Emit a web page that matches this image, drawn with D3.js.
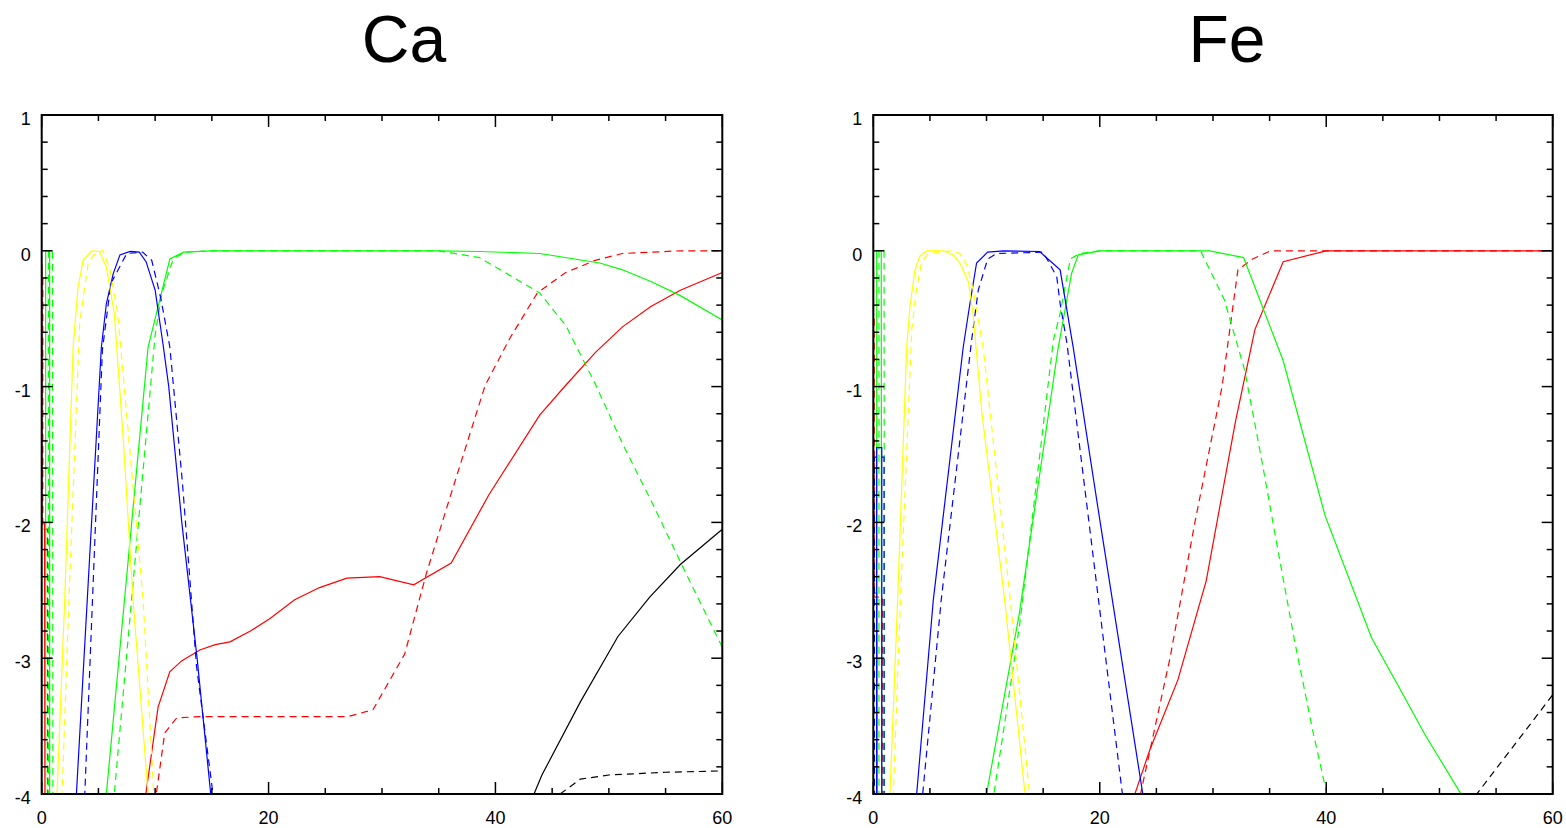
<!DOCTYPE html>
<html>
<head>
<meta charset="utf-8">
<script src="https://cdn.jsdelivr.net/npm/d3@7"></script>
<style>
  body { margin: 0; background: #fff; }
  svg text { font-family: 'Liberation Sans', Arial, Helvetica, sans-serif; }
</style>
</head>
<body>
<div id="chart"></div>
<script>

// panel titles and axis ticks
var titles = ['Ca', 'Fe'];
var xTicks = [0, 20, 40, 60];
var yTicks = [1, 0, -1, -2, -3, -4];

// Ca series: [x, log fraction]; values below -4 are off the plot
var caBlackSolid = [[43.4,-4],[44.1,-3.86],[47.5,-3.32],[50.8,-2.84],[53.6,-2.55],[56.3,-2.31],[60,-2.05]];
var caBlackDash = [[45.7,-4],[47.5,-3.89],[50,-3.86],[55,-3.84],[60,-3.83]];
var caRedSolid = [[0.02,-0.1],[0.02,-2.0],[0.25,-2.0],[0.3,-5],[9,-5],[9.18,-4],[10.26,-3.36],[11.29,-3.10],[12.33,-3.02],[13.94,-2.94],[15.3,-2.9],[16.6,-2.88],[18.4,-2.8],[20.1,-2.71],[22.3,-2.57],[24.5,-2.48],[26.9,-2.41],[29.8,-2.40],[32.8,-2.46],[36.1,-2.30],[39.4,-1.80],[43.9,-1.21],[46.2,-0.99],[48.8,-0.75],[51.2,-0.56],[53.7,-0.41],[56.3,-0.29],[60,-0.16]];
var caRedDash = [[0.1,-0.2],[0.1,-2.05],[0.5,-2.05],[0.55,-5],[9.9,-5],[10.1,-4],[10.85,-3.55],[11.9,-3.44],[13.9,-3.43],[20,-3.43],[27,-3.43],[29.2,-3.38],[32,-2.97],[33.9,-2.38],[35.9,-1.84],[39.1,-0.99],[41.3,-0.64],[43.7,-0.31],[46.2,-0.16],[48.8,-0.07],[51.2,-0.02],[56.3,0],[60,0]];
var caGreenSolid = [[0.35,-5],[0.35,0],[0.7,0],[0.7,-5],[5.6,-5],[5.7,-4],[9.38,-0.71],[9.97,-0.51],[11.3,-0.06],[12.5,-0.01],[15,0],[35,0],[38.6,-0.005],[43.9,-0.02],[49.2,-0.09],[51.2,-0.14],[53.8,-0.23],[56.3,-0.33],[60,-0.51]];
var caGreenDash = [[0.6,-5],[0.6,0],[0.95,0],[1.0,-5],[6.3,-5],[6.4,-4],[10.0,-0.62],[10.6,-0.31],[11.6,-0.06],[12.6,-0.01],[15,0],[35,0],[38.6,-0.05],[43.9,-0.31],[46.2,-0.55],[48.8,-0.98],[51.2,-1.42],[53.9,-1.87],[56.3,-2.29],[60,-2.92]];
var caBlueSolid = [[3.0,-5],[3.06,-4],[5.26,-0.71],[5.7,-0.39],[6.3,-0.17],[6.9,-0.03],[7.8,-0.005],[8.6,-0.01],[9.2,-0.08],[10.0,-0.29],[10.7,-0.69],[11.2,-1.0],[12.35,-2.0],[13.7,-3.0],[14.9,-4],[15,-5]];
var caBlueDash = [[3.7,-5],[3.8,-4],[5.35,-0.73],[6.1,-0.24],[7.5,-0.02],[8.9,-0.01],[9.7,-0.07],[10.5,-0.35],[11.3,-0.71],[12.4,-1.7],[13.65,-3.06],[15.1,-4],[15.2,-5]];
var caYellowSolid = [[1.3,-5],[1.35,-4],[2.03,-2.57],[2.77,-0.71],[3.2,-0.27],[3.65,-0.07],[4.4,0],[5.1,-0.005],[5.7,-0.12],[6.4,-0.46],[7.2,-1.4],[8.05,-2.57],[9.38,-4],[9.5,-5]];
var caYellowDash = [[1.75,-5],[1.8,-4],[2.4,-2.57],[3.35,-0.53],[4.1,-0.09],[4.8,-0.01],[5.4,0],[6.0,-0.13],[6.7,-0.46],[8.94,-2.57],[9.88,-4],[10,-5]];

// Fe series
var feBlackDash = [[52.5,-4.9],[53.3,-4],[60,-3.27]];
var feRedSolid = [[0.02,-0.15],[0.02,-2.52],[0.3,-2.52],[0.35,-5],[22.8,-5],[23.1,-4],[24.4,-3.68],[26.9,-3.16],[29.4,-2.43],[32,-1.25],[33.7,-0.58],[36.2,-0.08],[40,0],[60,0]];
var feRedDash = [[0.08,-0.5],[0.08,-2.55],[0.8,-2.55],[0.85,-5],[23.3,-5],[23.6,-4],[26.2,-3.0],[28.4,-2.0],[30.8,-1.0],[32.2,-0.14],[33.5,-0.06],[35.1,0],[60,0]];
var feGreenSolid = [[0.3,-5],[0.3,0],[0.7,0],[0.75,-5],[9.9,-5],[10,-4],[12.9,-2.67],[16.3,-0.73],[17.5,-0.17],[18.1,-0.03],[20,0],[29.7,0],[32.7,-0.05],[36.2,-0.81],[39.9,-1.95],[44,-2.85],[46.6,-3.24],[48.7,-3.56],[51.9,-4],[52,-5]];
var feGreenDash = [[0.5,-5],[0.5,0],[0.95,0],[1.0,-5],[10.5,-5],[10.65,-4],[12.9,-2.77],[15.9,-0.66],[16.5,-0.46],[17.4,-0.06],[18.25,-0.02],[20,0],[28.9,0],[31,-0.36],[32.8,-0.88],[34.3,-1.54],[35.9,-2.28],[37.2,-2.87],[38.8,-3.53],[40,-3.98],[40.1,-5]];
var feBlueSolid = [[0.3,-5],[0.3,-1.45],[0.75,-1.45],[0.75,-5],[3.7,-5],[3.83,-4],[5.3,-2.57],[7.94,-0.71],[8.53,-0.39],[9.12,-0.09],[10.1,-0.01],[11.5,0],[14.7,-0.005],[15.15,-0.04],[16.5,-0.14],[17.65,-0.71],[20,-1.98],[23.8,-4],[24,-5]];
var feBlueDash = [[0.1,-5],[0.1,-1.52],[0.95,-1.52],[0.95,-5],[4.2,-5],[4.36,-4],[6.0,-2.57],[8.68,-0.66],[9.27,-0.29],[10.1,-0.06],[10.9,-0.02],[15,-0.01],[15.4,-0.07],[16.2,-0.19],[16.5,-0.39],[17.1,-0.68],[22.0,-4],[22.2,-5]];
var feYellowSolid = [[1.4,-5],[1.47,-4],[2.15,-2.57],[2.95,-0.71],[3.24,-0.41],[3.68,-0.14],[4.1,-0.04],[4.7,0],[6.2,0],[7.06,-0.03],[7.65,-0.09],[8.4,-0.23],[8.8,-0.46],[9.6,-1.2],[11.6,-2.57],[13.4,-4],[13.5,-5]];
var feYellowDash = [[1.7,-5],[1.77,-4],[2.4,-2.57],[3.4,-0.58],[3.8,-0.29],[4.27,-0.08],[4.85,-0.02],[6.9,0],[7.65,-0.02],[8.24,-0.1],[8.8,-0.28],[9.7,-0.71],[12.1,-2.57],[13.8,-4],[13.9,-5]];

var caSeries = [
  {pts: caBlackSolid, color: '#000000', dash: false},
  {pts: caBlackDash, color: '#000000', dash: true},
  {pts: caRedSolid, color: '#ff0000', dash: false},
  {pts: caRedDash, color: '#ff0000', dash: true},
  {pts: caGreenSolid, color: '#00ff00', dash: false},
  {pts: caGreenDash, color: '#00ff00', dash: true},
  {pts: caBlueSolid, color: '#0000ff', dash: false},
  {pts: caBlueDash, color: '#0000ff', dash: true},
  {pts: caYellowSolid, color: '#ffff00', dash: false},
  {pts: caYellowDash, color: '#ffff00', dash: true}
];
var feSeries = [
  {pts: feBlackDash, color: '#000000', dash: true},
  {pts: feRedSolid, color: '#ff0000', dash: false},
  {pts: feRedDash, color: '#ff0000', dash: true},
  {pts: feGreenSolid, color: '#00ff00', dash: false},
  {pts: feGreenDash, color: '#00ff00', dash: true},
  {pts: feBlueSolid, color: '#0000ff', dash: false},
  {pts: feBlueDash, color: '#0000ff', dash: true},
  {pts: feYellowSolid, color: '#ffff00', dash: false},
  {pts: feYellowDash, color: '#ffff00', dash: true}
];

var svg = d3.select('#chart').append('svg')
    .attr('width', 1566)
    .attr('height', 828);

function drawPanel(idx, left, right, titleX, series) {
  var top = 115, bottom = 794;

  var x = d3.scaleLinear().domain([0, 60]).range([left, right]);
  var y = d3.scaleLinear().domain([-4, 1]).range([bottom, top]);

  var clipId = 'clip' + idx;
  svg.append('clipPath')
      .attr('id', clipId)
    .append('rect')
      .attr('x', left)
      .attr('y', top)
      .attr('width', right - left)
      .attr('height', bottom - top);

  // title
  svg.append('text')
      .attr('x', titleX)
      .attr('y', 62)
      .attr('text-anchor', 'middle')
      .attr('font-size', '66px')
      .text(titles[idx]);

  // curves
  var line = d3.line()
      .x(function(d) { return x(d[0]); })
      .y(function(d) { return y(d[1]); });

  svg.append('g')
      .attr('clip-path', 'url(#' + clipId + ')')
    .selectAll('path')
      .data(series)
    .enter().append('path')
      .attr('d', function(d) { return line(d.pts); })
      .attr('fill', 'none')
      .attr('stroke', function(d) { return d.color; })
      .attr('stroke-width', 1.2)
      .attr('stroke-dasharray', function(d) { return d.dash ? '7,5' : null; });

  // inward ticks on all four sides
  var minorX = d3.range(0, 61, 5);
  var minorY = d3.range(-4, 1.001, 0.2).map(function(v) { return Math.round(v * 10) / 10; });
  var isMajor = function(v, step) { return Math.abs(v / step - Math.round(v / step)) < 1e-6; };

  var ticks = svg.append('g')
      .attr('stroke', '#000')
      .attr('stroke-width', 1.5);

  ticks.selectAll('line.xb')
      .data(minorX)
    .enter().append('line')
      .attr('x1', function(d) { return x(d); })
      .attr('x2', function(d) { return x(d); })
      .attr('y1', bottom)
      .attr('y2', function(d) { return bottom - (isMajor(d, 20) ? 12 : 6); });

  ticks.selectAll('line.xt')
      .data(minorX)
    .enter().append('line')
      .attr('x1', function(d) { return x(d); })
      .attr('x2', function(d) { return x(d); })
      .attr('y1', top)
      .attr('y2', function(d) { return top + (isMajor(d, 20) ? 12 : 6); });

  ticks.selectAll('line.yl')
      .data(minorY)
    .enter().append('line')
      .attr('y1', function(d) { return y(d); })
      .attr('y2', function(d) { return y(d); })
      .attr('x1', left)
      .attr('x2', function(d) { return left + (isMajor(d, 1) ? 11 : 6); });

  ticks.selectAll('line.yr')
      .data(minorY)
    .enter().append('line')
      .attr('y1', function(d) { return y(d); })
      .attr('y2', function(d) { return y(d); })
      .attr('x1', right)
      .attr('x2', function(d) { return right - (isMajor(d, 1) ? 11 : 6); });

  // frame
  svg.append('rect')
      .attr('x', left)
      .attr('y', top)
      .attr('width', right - left)
      .attr('height', bottom - top)
      .attr('fill', 'none')
      .attr('stroke', '#000')
      .attr('stroke-width', 2);

  // tick labels
  svg.selectAll('text.xl' + idx)
      .data(xTicks)
    .enter().append('text')
      .attr('class', 'xl' + idx)
      .attr('x', function(d) { return x(d); })
      .attr('y', bottom + 30)
      .attr('text-anchor', 'middle')
      .attr('font-size', '18px')
      .text(function(d) { return d; });

  svg.selectAll('text.yl' + idx)
      .data(yTicks)
    .enter().append('text')
      .attr('class', 'yl' + idx)
      .attr('x', left - 11)
      .attr('y', function(d) { return y(d) + 10; })
      .attr('text-anchor', 'end')
      .attr('font-size', '18px')
      .text(function(d) { return d; });
}

drawPanel(0, 41.7, 722.3, 404, caSeries);
drawPanel(1, 873.3, 1552.7, 1227, feSeries);

</script>
</body>
</html>
